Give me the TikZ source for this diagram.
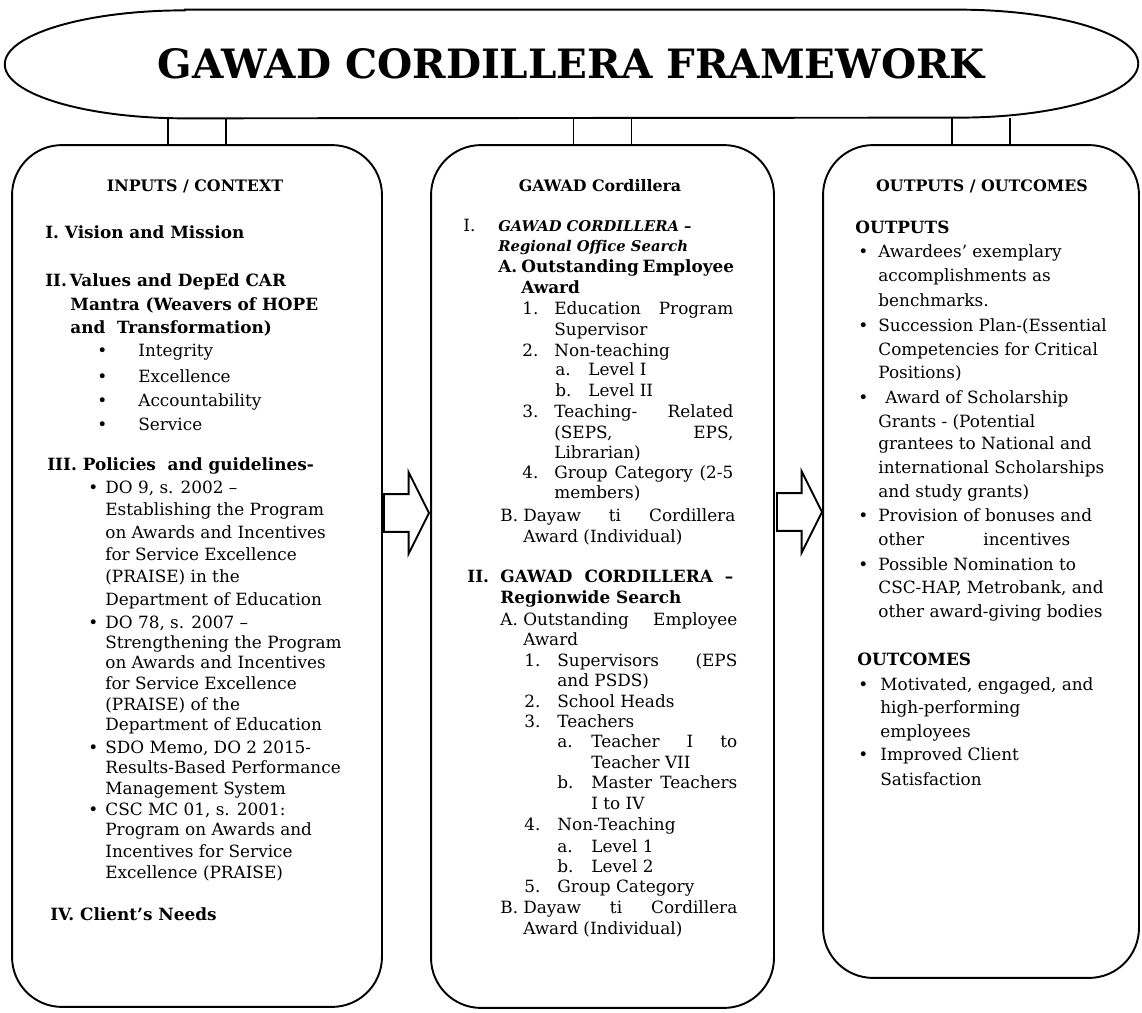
\documentclass[tikz,border=0pt]{standalone}
\usepackage{fontspec}
\setmainfont{DejaVu Serif}
\usetikzlibrary{shapes.arrows}

\newlength{\pxu}
\setlength{\pxu}{0.02cm}
\newcommand{\jst}[2]{\makebox[#1\pxu][s]{#2}}
\newcommand{\bisub}[1]{{\fontsize{8.4}{12}\selectfont\bfseries\itshape #1}}

\tikzset{
  frame/.style={draw, line width=1.1pt},
  panel/.style={frame, rectangle, rounded corners=1cm, inner sep=0pt},
  blockarrow/.style={frame, single arrow, anchor=tail, inner xsep=0pt, inner ysep=0.36cm,
    minimum height=0.9cm, single arrow head extend=0.44cm, single arrow tip angle=127},
  txt/.style={anchor=base west, inner sep=0pt, font=\fontsize{9.6}{12}\selectfont},
  head/.style={anchor=base, inner sep=0pt, font=\bfseries\fontsize{9}{12}\selectfont}
}

\begin{document}
\begin{tikzpicture}[x=0.02cm, y=-0.02cm]
\useasboundingbox (0,0) rectangle (1142,1013);

% title
\node[inner sep=0pt, minimum width=22.66cm, minimum height=2.16cm,
  font=\bfseries\fontsize{23}{28}\selectfont] (title) at (571.5,64) {GAWAD CORDILLERA FRAMEWORK};
\draw[frame] ([xshift=3.6cm]title.north west) -- ([xshift=-3.6cm]title.north east)
  arc[start angle=90, end angle=-90, x radius=3.6cm, y radius=1.08cm]
  -- ([xshift=3.6cm]title.south west)
  arc[start angle=270, end angle=90, x radius=3.6cm, y radius=1.08cm] -- cycle;

% the three panels
\node[panel, minimum width=7.4cm, minimum height=17.24cm] (inbox) at (197,576) {};
\node[panel, minimum width=6.86cm, minimum height=17.26cm] (midbox) at (602.5,576.5) {};
\node[panel, minimum width=6.32cm, minimum height=16.66cm] (outbox) at (981,561.5) {};

\foreach \b in {inbox,midbox,outbox}
  \foreach \s in {-29,29}
    \draw[frame] ([xshift=\s\pxu]\b.north) -- ([xshift=\s\pxu]\b.north |- title.south);

% block arrows
\node[blockarrow] (arrin) at (383,513) {};
\node[blockarrow] (arrout) at (776,512) {};

% headings
\node[head] (inhead) at (195,192) {INPUTS / CONTEXT};
\node[head] (midhead) at (600,192) {GAWAD Cordillera};
\node[head] (outhead) at (982,192) {OUTPUTS / OUTCOMES};

% inputs / context
\foreach \x/\y/\lbl [count=\i] in {
  45/239/{\textbf{I.\ Vision and Mission}},
  45/287/{\textbf{II.\,Values and DepEd CAR}},
  70/311/{\textbf{Mantra (Weavers of HOPE}},
  70/334/{\textbf{and \ Transformation)}},
  97/357/{\textbullet}, 138/357/{Integrity},
  97/382/{\textbullet}, 138/382/{Excellence},
  97/406/{\textbullet}, 138/406/{Accountability},
  97/430/{\textbullet}, 138/430/{Service},
  47/470/{\textbf{III. Policies \ and guidelines-}},
  88/493/{\textbullet}, 105/493/{DO 9, s. 2002 --},
  105/515/{Establishing the Program},
  105/538/{on Awards and Incentives},
  105/560/{for Service Excellence},
  105/582/{(PRAISE) in the},
  105/605/{Department of Education},
  88/628/{\textbullet}, 105/628/{DO 78, s. 2007 --},
  105/648/{Strengthening the Program},
  105/668/{on Awards and Incentives},
  105/689/{for Service Excellence},
  105/710/{(PRAISE) of the},
  105/730/{Department of Education},
  88/753/{\textbullet}, 105/753/{SDO Memo, DO 2 2015-},
  105/773/{Results-Based Performance},
  105/794/{Management System},
  88/815/{\textbullet}, 105/815/{CSC MC 01, s. 2001:},
  105/835/{Program on Awards and},
  105/857/{Incentives for Service},
  105/878/{Excellence (PRAISE)},
  50/920/{\textbf{IV. Client's Needs}}}
  \node[txt] (in\i) at (\x,\y) {\lbl};

% gawad cordillera
\foreach \x/\y/\lbl [count=\i] in {
  463/232/{I.},
  498/232/{\bisub{GAWAD CORDILLERA --}},
  498/252/{\bisub{Regional Office Search}},
  498/273/{\textbf{A.}}, 521/273/{\textbf{\jst{212}{Outstanding Employee}}},
  521/294/{\textbf{Award}},
  522/315/{1.}, 554/315/{\jst{179}{Education Program}},
  554/336/{Supervisor},
  522/357/{2.}, 554/357/{Non-teaching},
  555/376/{a.}, 588/376/{Level I},
  555/396/{b.}, 588/396/{Level II},
  522/417/{3.}, 554/417/{\jst{179}{Teaching- Related}},
  554/438/{\jst{179}{(SEPS, EPS,}},
  554/458/{Librarian)},
  522/478/{4.}, 554/478/{\jst{179}{Group Category (2-5}},
  554/498/{members)},
  500/521/{B.}, 523/521/{\jst{212}{Dayaw ti Cordillera}},
  523/542/{Award (Individual)},
  467/582/{\textbf{II.}}, 500/582/{\textbf{\jst{233}{GAWAD CORDILLERA --}}},
  500/603/{\textbf{Regionwide Search}},
  500/625/{A.}, 523/625/{\jst{214}{Outstanding Employee}},
  523/645/{Award},
  524/666/{1.}, 557/666/{\jst{180}{Supervisors (EPS}},
  557/686/{and PSDS)},
  524/707/{2.}, 557/707/{School Heads},
  524/727/{3.}, 557/727/{Teachers},
  557/747/{a.}, 591/747/{\jst{146}{Teacher I to}},
  591/768/{Teacher VII},
  557/788/{b.}, 591/788/{\jst{146}{Master Teachers}},
  591/809/{I to IV},
  524/830/{4.}, 557/830/{Non-Teaching},
  557/852/{a.}, 591/852/{Level 1},
  557/872/{b.}, 591/872/{Level 2},
  524/892/{5.}, 557/892/{Group Category},
  500/913/{B.}, 523/913/{\jst{214}{Dayaw ti Cordillera}},
  523/934/{Award (Individual)}}
  \node[txt] (mid\i) at (\x,\y) {\lbl};

% outputs / outcomes
\foreach \x/\y/\lbl [count=\i] in {
  855/234/{\textbf{OUTPUTS}},
  858/258/{\textbullet}, 878/258/{Awardees' exemplary},
  878/282/{accomplishments as},
  878/307/{benchmarks.},
  858/332/{\textbullet}, 878/332/{Succession Plan-(Essential},
  878/356/{Competencies for Critical},
  878/378/{Positions)},
  858/403/{\textbullet}, 885/403/{Award of Scholarship},
  878/427/{Grants - (Potential},
  878/449/{grantees to National and},
  878/473/{international Scholarships},
  878/497/{and study grants)},
  858/521/{\textbullet}, 878/521/{Provision of bonuses and},
  878/545/{\jst{192}{other incentives}},
  858/570/{\textbullet}, 878/570/{Possible Nomination to},
  878/593/{CSC-HAP, Metrobank, and},
  878/617/{other award-giving bodies},
  857/665/{\textbf{OUTCOMES}},
  858/690/{\textbullet}, 880/690/{Motivated, engaged, and},
  880/713/{high-performing},
  880/737/{employees},
  858/760/{\textbullet}, 880/760/{Improved Client},
  880/785/{Satisfaction}}
  \node[txt] (out\i) at (\x,\y) {\lbl};
\end{tikzpicture}
\end{document}
